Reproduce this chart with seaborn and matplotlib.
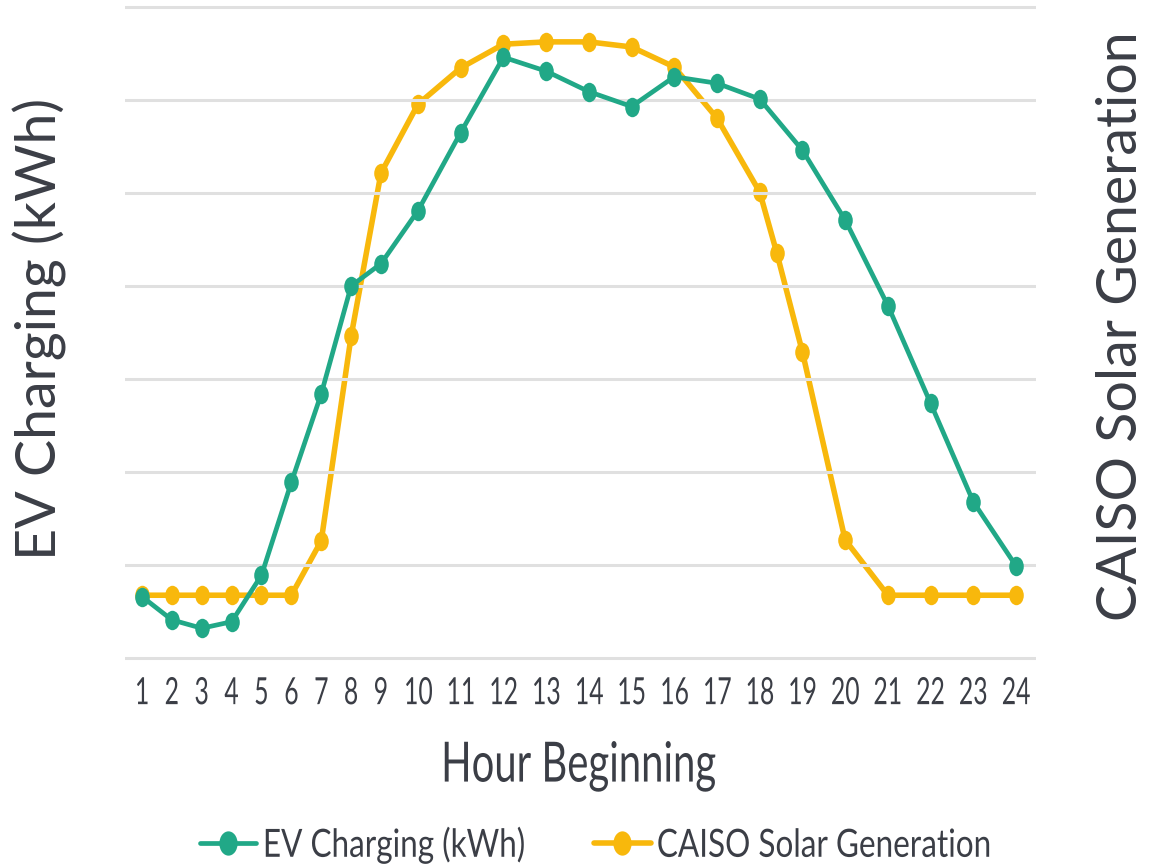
import numpy as np
import pandas as pd
import matplotlib
matplotlib.use("Agg")
import matplotlib.pyplot as plt
from matplotlib import font_manager as fm
from matplotlib.path import Path
from matplotlib.patheffects import AbstractPathEffect
from matplotlib.transforms import Affine2D
import seaborn as sns

# ---- data -------------------------------------------------------------
hours = list(range(1, 25))
ev_charging_kwh = [66, 41, 32, 39, 89, 189, 284, 400, 424, 481, 565, 646,
                   631, 609, 593, 625, 618, 601, 546, 471, 379, 274, 168, 99]

solar_hours = [1, 2, 3, 4, 5, 6, 7, 8, 9, 10, 11, 12, 13, 14, 15, 16, 17, 18,
               18.4, 19, 20, 21, 22, 23, 24]
solar_mw = [1350, 1350, 1350, 1350, 1350, 1350, 2520, 6920, 10430, 11910,
            12690, 13200, 13250, 13250, 13140, 12710, 11610, 10020, 8710,
            6580, 2540, 1350, 1350, 1350, 1350]

hour_labels = [str(h) for h in hours]
ev_name = "EV Charging (kWh)"
solar_name = "CAISO Solar Generation"

# ---- style ------------------------------------------------------------
sns.set_theme(style="white")
available = {f.name for f in fm.fontManager.ttflist}
base_font = "Lato" if "Lato" in available else "DejaVu Sans"
plt.rcParams["font.family"] = [base_font, "DejaVu Sans"]

TEXT = "#3b3e46"
GREEN = "#21a887"
YELLOW = "#f8b80c"
GRID = "#e0e0e0"


class Squeeze(AbstractPathEffect):
    """Draw text glyphs horizontally condensed."""

    def __init__(self, sx, anchor="center"):
        super().__init__()
        self.sx = sx
        self.anchor = anchor

    def draw_path(self, renderer, gc, tpath, affine, rgbFace=None):
        ext = tpath.get_extents(affine)
        cx = ext.x0 if self.anchor == "left" else 0.5 * (ext.x0 + ext.x1)
        squeezed = affine + Affine2D().translate(-cx, 0).scale(self.sx, 1).translate(cx, 0)
        renderer.draw_path(gc, tpath, squeezed, rgbFace)


# slightly tall ellipse marker
ellipse = Path.unit_circle().transformed(Affine2D().scale(0.75, 1.0))

fig = plt.figure(figsize=(11.58, 8.66), dpi=100)
ax = fig.add_axes([0.10794, 0.23481, 0.78670, 0.76248])
ax2 = ax.twinx()

ev_df = pd.DataFrame({"hour": hours, "value": ev_charging_kwh})
solar_df = pd.DataFrame({"hour": solar_hours, "value": solar_mw})

sns.lineplot(data=ev_df, x="hour", y="value", ax=ax, color=GREEN,
             linewidth=3.4, marker=ellipse, markersize=14, markeredgewidth=0,
             label=ev_name, zorder=3)
sns.lineplot(data=solar_df, x="hour", y="value", ax=ax2, color=YELLOW,
             linewidth=4.0, marker=ellipse, markersize=14, markeredgewidth=0,
             label=solar_name, zorder=2)
ax.set_zorder(ax2.get_zorder() + 1)
ax.patch.set_visible(False)

# hour axis: tighter spacing for the single-digit hours
bp_h = np.array([1.0, 9.0, 10.0, 24.0])
bp_p = np.array([0.0, 239.0, 276.0, 874.0])
s_lo, s_hi = 29.875, 42.71


def fwd(h):
    h = np.asarray(h, dtype=float)
    p = np.interp(h, bp_h, bp_p)
    p = np.where(h < 1, (h - 1) * s_lo, p)
    p = np.where(h > 24, 874 + (h - 24) * s_hi, p)
    return p


def inv(p):
    p = np.asarray(p, dtype=float)
    h = np.interp(p, bp_p, bp_h)
    h = np.where(p < 0, 1 + p / s_lo, h)
    h = np.where(p > 874, 24 + (p - 874) / s_hi, h)
    return h


for a in (ax, ax2):
    a.set_xscale("function", functions=(fwd, inv))
ax.set_xlim(0.431, 24.468)
ax.set_xticks(hours)
ax.set_xticklabels(hour_labels)
ax.tick_params(axis="x", length=0, pad=9, labelsize=27, labelcolor=TEXT)
for lbl in ax.get_xticklabels():
    lbl.set_path_effects([Squeeze(0.66)])

ax.set_ylim(-5, 705)
ax2.set_ylim(-100, 14100)
ax.set_yticks(np.arange(0, 701, 100))
ax2.set_yticks([])
ax.set_yticklabels([])
ax.tick_params(axis="y", length=0)
ax.grid(axis="y", color=GRID, linewidth=2.2)
ax.grid(axis="x", visible=False)
ax2.grid(False)
for a in (ax, ax2):
    for s in a.spines.values():
        s.set_visible(False)

ax.set_xlabel("Hour Beginning", fontsize=40, color=TEXT,
              path_effects=[Squeeze(0.72)])
ax.xaxis.set_label_coords(0.497, -0.157)
ax.xaxis.label.set_va("center")

ax.set_ylabel(ev_name, fontsize=40, color=TEXT)
ax.yaxis.label.set_va("center")
ax.yaxis.set_label_coords(-0.0933, 0.505)

ax2.set_ylabel(solar_name, fontsize=40, color=TEXT, rotation=90)
ax2.yaxis.label.set_va("center")
ax2.yaxis.set_label_coords(1.094, 0.51)

h1, l1 = ax.get_legend_handles_labels()
h2, l2 = ax2.get_legend_handles_labels()
for a in (ax, ax2):
    if a.get_legend() is not None:
        a.get_legend().remove()
leg = fig.legend(h1 + h2, l1 + l2, loc="center left",
                 bbox_to_anchor=(200 / 1158, 0.024), borderpad=0,
                 borderaxespad=0, ncol=2, frameon=False, fontsize=28,
                 labelcolor=TEXT, markerscale=1.25, handlelength=1.45,
                 handletextpad=0.15, columnspacing=0.2)
for t in leg.get_texts():
    t.set_path_effects([Squeeze(0.81, anchor="left")])

fig.savefig("out.png", dpi=100)
